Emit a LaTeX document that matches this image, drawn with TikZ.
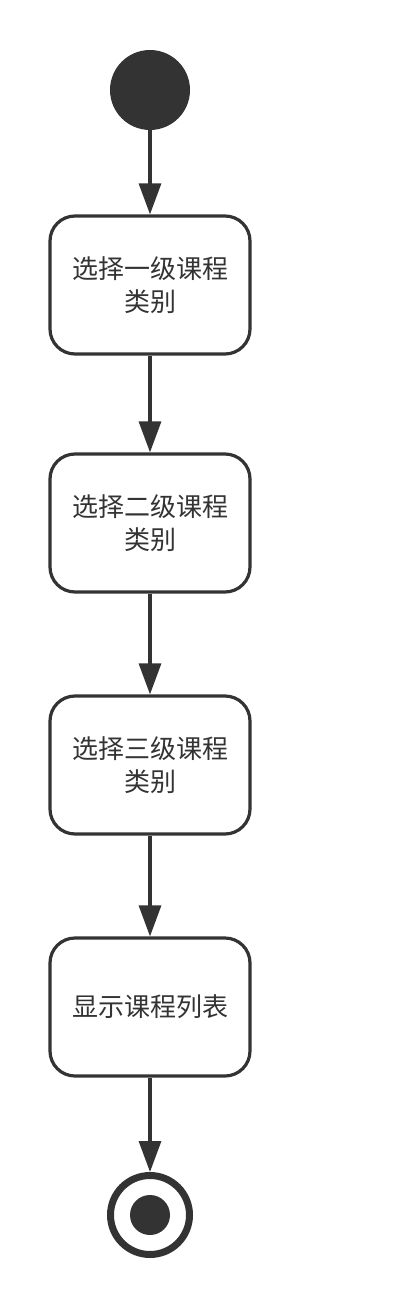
\documentclass[tikz,border=0pt]{standalone}
\usepackage{fontspec}
\setmainfont{Noto Sans CJK SC}
\usetikzlibrary{arrows.meta}
\definecolor{ink}{HTML}{333333}
\begin{document}
\begin{tikzpicture}[x=1pt,y=-1pt,
  act/.style={draw=ink,line width=3.2pt,rounded corners=25pt,minimum width=200pt,minimum height=138pt,
    align=center,text=ink,font=\fontsize{26}{33}\selectfont},
  flow/.style={draw=ink,line width=3.2pt,-{Triangle[length=31pt,width=22pt]}}]
\useasboundingbox (0,0) rectangle (400,1305);
\node[circle,fill=ink,minimum size=80pt,inner sep=0pt] (start) at (150,90){};
\node[act] (S1) at (150,285){选择一级课程\\类别};
\node[act] (S2) at (150,523){选择二级课程\\类别};
\node[act] (S3) at (150,765){选择三级课程\\类别};
\node[act] (L) at (150,1007){显示课程列表};
\node[circle,draw=ink,line width=7pt,minimum size=79pt,inner sep=0pt] (stop) at (150,1215){};
\fill[ink] (stop) circle (20);
\draw[flow] (start) -- (S1);
\draw[flow] (S1) -- (S2);
\draw[flow] (S2) -- (S3);
\draw[flow] (S3) -- (L);
\draw[flow] (L) -- (stop);
\end{tikzpicture}
\end{document}
